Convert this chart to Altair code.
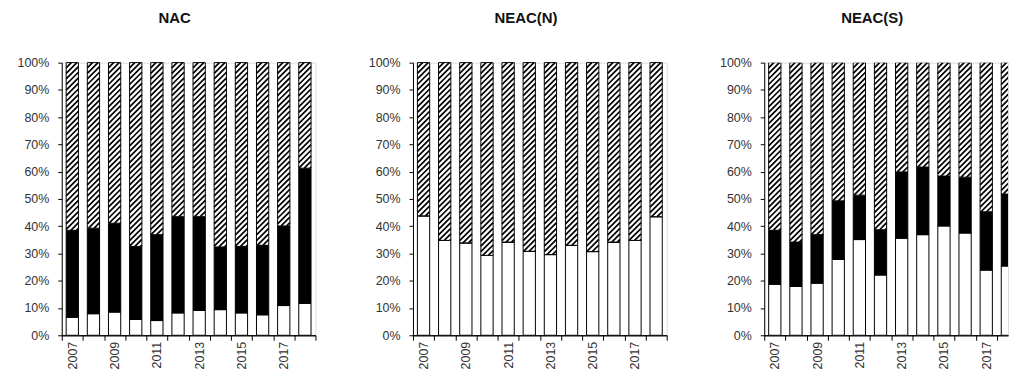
import altair as alt
import pandas as pd

# ---------------- data (percent shares, bottom -> top) ----------------
years = [2007, 2008, 2009, 2010, 2011, 2012, 2013, 2014, 2015, 2016, 2017, 2018]
panels = ["NAC", "NEAC(N)", "NEAC(S)"]
segments = ["white", "black", "hatched"]

nac_white = [6.6, 7.9, 8.5, 5.8, 5.4, 8.2, 9.1, 9.4, 8.2, 7.5, 10.9, 11.7]
nac_black = [31.9, 31.4, 32.6, 26.8, 31.5, 35.3, 34.4, 23.0, 24.4, 25.5, 29.2, 49.6]
nac_hatched = [61.5, 60.7, 58.9, 67.4, 63.1, 56.5, 56.5, 67.6, 67.4, 67.0, 59.9, 38.7]

neacn_white = [43.8, 34.8, 33.9, 29.3, 34.2, 30.8, 29.6, 33.0, 30.7, 34.2, 34.8, 43.5]
neacn_black = [0, 0, 0, 0, 0, 0, 0, 0, 0, 0, 0, 0]
neacn_hatched = [56.2, 65.2, 66.1, 70.7, 65.8, 69.2, 70.4, 67.0, 69.3, 65.8, 65.2, 56.5]

neacs_white = [18.7, 17.9, 19.1, 27.8, 35.1, 22.1, 35.6, 36.9, 40.1, 37.5, 23.9, 25.4]
neacs_black = [19.8, 16.3, 17.8, 21.5, 16.3, 16.6, 24.3, 24.8, 18.3, 20.5, 21.4, 26.4]
neacs_hatched = [61.5, 65.8, 63.1, 50.7, 48.6, 61.3, 40.1, 38.3, 41.6, 42.0, 54.7, 48.2]

label_years = [2007, 2009, 2011, 2013, 2015, 2017]
y_ticks = [0, 10, 20, 30, 40, 50, 60, 70, 80, 90, 100]

# ---------------- layout / style ----------------
W, H = 255, 274
X0, X1 = 2006.5, 2018.5
HW = 0.29               # half bar width in years
PX_X = W / (X1 - X0)    # px per year
PX_Y = H / 100.0        # px per percent
PERIOD = 5.6            # vertical hatch period, px
W3 = 245                # last panel is cut off at the right edge
X1_3 = X0 + W3 / PX_X
LABEL_FONT = "Liberation Sans, Arial, sans-serif"
TITLE_FONT = "Liberation Sans Narrow, Arial Narrow, Liberation Sans, sans-serif"


def build_frames(white, black, hatched):
    rows, hatch = [], []
    for i, yr in enumerate(years):
        lo = 0.0
        for seg, v in zip(segments, (white[i], black[i], hatched[i])):
            rows.append(dict(x=yr - HW, x2=yr + HW, y=lo, y2=lo + v, seg=seg))
            if seg == "hatched":
                # diagonal "/" lines clipped to the hatched rectangle
                bw = 2 * HW * PX_X
                lo_px, hi_px = lo * PX_Y, (lo + v) * PX_Y
                k = int((lo_px - bw) // PERIOD)
                while k * PERIOD < hi_px:
                    y0 = k * PERIOD
                    xs = max(0.0, lo_px - y0)
                    xe = min(bw, hi_px - y0)
                    if xe - xs > 0.4:
                        hatch.append(dict(
                            x=yr - HW + xs / PX_X, x2=yr - HW + xe / PX_X,
                            y=(y0 + xs) / PX_Y, y2=(y0 + xe) / PX_Y))
                    k += 1
            lo += v
    return pd.DataFrame(rows), pd.DataFrame(hatch)


def y_axis():
    return alt.Axis(
        values=y_ticks, labelExpr="datum.value + '%'", tickSize=4,
        tickColor="black", domainColor="black", labelPadding=9,
        labelFont=LABEL_FONT, labelFontSize=12.5, labelColor="#333333",
        labelOverlap=False, grid=False, title=None)


def panel(name, white, black, hatched, width, xmax, clip):
    df, hdf = build_frames(white, black, hatched)
    xs = alt.Scale(domain=[X0, xmax], nice=False, zero=False)
    ys = alt.Scale(domain=[0, 100], nice=False, zero=True)
    ticks_at = [X0 + k for k in range(13) if X0 + k <= xmax + 1e-9]

    bars = alt.Chart(df).mark_rect(stroke="black", strokeWidth=1, clip=clip).encode(
        x=alt.X("x:Q", scale=xs, axis=alt.Axis(
            orient="bottom", values=label_years, ticks=False, tickSize=0,
            labelAngle=-90, labelPadding=6, labelFont=LABEL_FONT,
            labelFontSize=12.5, labelColor="#333333", labelFlush=False,
            labelOverlap=False, domainColor="black", grid=False, title=None,
            format="d")),
        x2="x2:Q",
        y=alt.Y("y:Q", scale=ys, axis=y_axis()),
        y2="y2:Q",
        fill=alt.Fill("seg:N", scale=alt.Scale(domain=segments,
                                               range=["white", "black", "white"]),
                      legend=None),
    )

    lines = alt.Chart(hdf).mark_rule(color="black", strokeWidth=1.7, clip=clip).encode(
        x=alt.X("x:Q", scale=xs, axis=alt.Axis(
            orient="bottom", values=ticks_at, labels=False, ticks=True,
            tickSize=5, tickColor="black", domainColor="black", grid=False,
            title=None)),
        x2="x2:Q",
        y=alt.Y("y:Q", scale=ys, axis=y_axis()),
        y2="y2:Q",
    )

    return alt.layer(bars, lines).resolve_axis(x="independent").properties(
        width=width, height=H,
        title=alt.TitleParams(text=name, anchor="middle", dx=-14, offset=31,
                              font=TITLE_FONT, fontSize=15, fontWeight="bold",
                              color="#111111"),
    )


chart = alt.hconcat(
    panel(panels[0], nac_white, nac_black, nac_hatched, W, X1, False),
    panel(panels[1], neacn_white, neacn_black, neacn_hatched, W, X1, False),
    panel(panels[2], neacs_white, neacs_black, neacs_hatched, W3, X1_3, True),
    spacing=51,
).properties(
    padding={"left": 8, "top": 1, "right": 0, "bottom": 0},
).configure_view(stroke=None).configure(background="white")

chart.save("out.html", embed_options={"renderer": "svg", "actions": False})
